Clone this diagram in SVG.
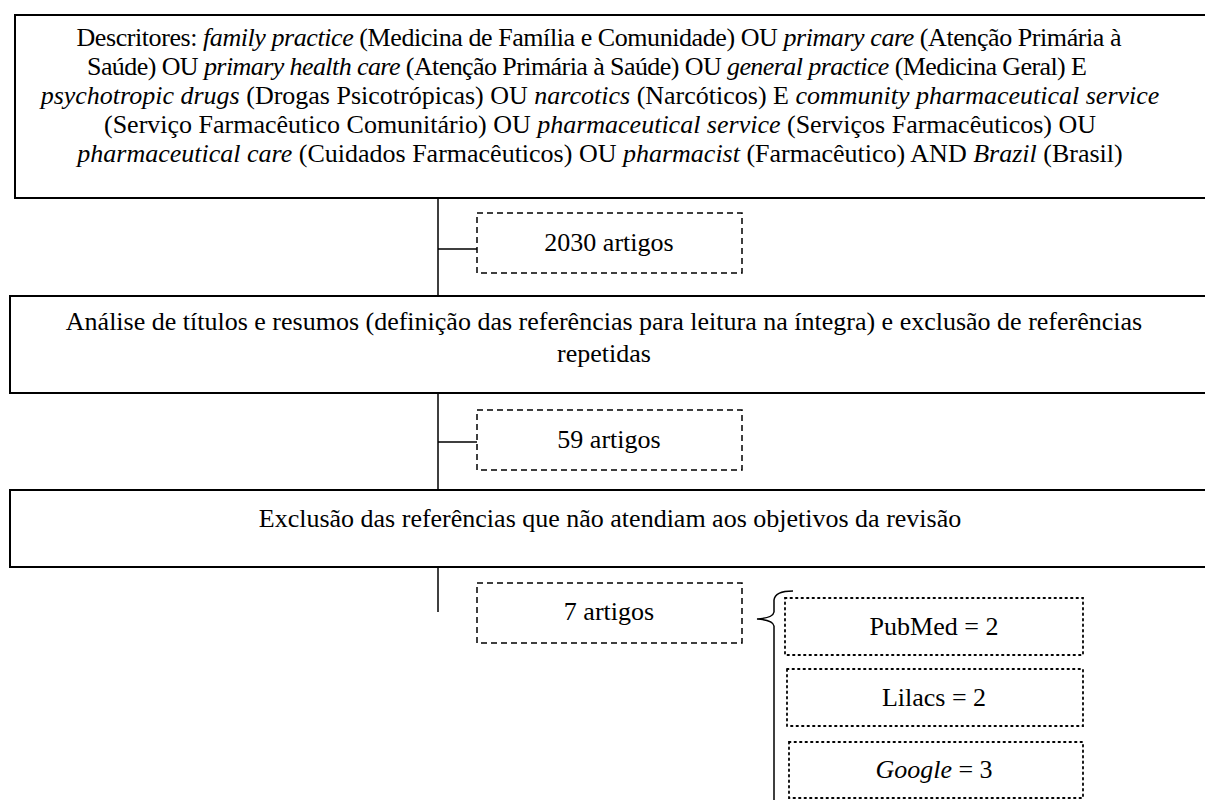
<svg xmlns="http://www.w3.org/2000/svg" width="1205" height="800" viewBox="0 0 1205 800">
<style>
.t{font-family:'Liberation Serif','Times New Roman','DejaVu Serif',serif;font-size:26px;fill:#000;text-anchor:middle}
.i{font-style:italic}
.main{fill:#fff;stroke:#000;stroke-width:2}
.dash{fill:#fff;stroke:#000;stroke-width:1.5;stroke-dasharray:6 4}
.dot{fill:#fff;stroke:#000;stroke-width:1.8;stroke-dasharray:1.5 4;stroke-linecap:round}
.ln{fill:none;stroke:#000;stroke-width:1.5}
</style>
<rect width="1205" height="800" fill="#fff"/>
<g id="connectors">
<path class="ln" d="M438 198V296M438 249H477"/>
<path class="ln" d="M438 393V490M438 442H477"/>
<path class="ln" d="M438 567V612"/>
<path class="ln" stroke-width="2" d="M793 591Q775 591 774 600V612Q773 618 757 619Q773 620 774 626V800"/>
</g>
<g id="n1" class="t" font-family="Liberation Serif, serif">
<rect class="main" x="15" y="15" width="1200" height="183"/>
<text x="599" y="46" textLength="1045" lengthAdjust="spacing">Descritores: <tspan class="i">family practice</tspan> (Medicina de Família e Comunidade) OU <tspan class="i">primary care</tspan> (Atenção Primária à</text>
<text x="587" y="75" textLength="1000" lengthAdjust="spacing">Saúde) OU <tspan class="i">primary health care</tspan> (Atenção Primária à Saúde) OU <tspan class="i">general practice</tspan> (Medicina Geral) E</text>
<text x="600" y="104"><tspan class="i">psychotropic drugs</tspan> (Drogas Psicotrópicas) OU <tspan class="i">narcotics</tspan> (Narcóticos) E <tspan class="i">community pharmaceutical service</tspan></text>
<text x="600" y="133">(Serviço Farmacêutico Comunitário) OU <tspan class="i">pharmaceutical service</tspan> (Serviços Farmacêuticos) OU</text>
<text x="600" y="162"><tspan class="i">pharmaceutical care</tspan> (Cuidados Farmacêuticos) OU <tspan class="i">pharmacist</tspan> (Farmacêutico) AND <tspan class="i">Brazil</tspan> (Brasil)</text>
</g>
<g id="n2" class="t" font-family="Liberation Serif, serif">
<rect class="dash" x="477" y="213" width="265" height="60"/>
<text x="609" y="251">2030 artigos</text>
</g>
<g id="n3" class="t" font-family="Liberation Serif, serif">
<rect class="main" x="10" y="296" width="1205" height="97"/>
<text x="604" y="330">Análise de títulos e resumos (definição das referências para leitura na íntegra) e exclusão de referências</text>
<text x="604" y="362">repetidas</text>
</g>
<g id="n4" class="t" font-family="Liberation Serif, serif">
<rect class="dash" x="477" y="410" width="265" height="60"/>
<text x="609" y="448">59 artigos</text>
</g>
<g id="n5" class="t" font-family="Liberation Serif, serif">
<rect class="main" x="10" y="490" width="1205" height="77"/>
<text x="610" y="527">Exclusão das referências que não atendiam aos objetivos da revisão</text>
</g>
<g id="n6" class="t" font-family="Liberation Serif, serif">
<rect class="dash" x="477" y="583" width="265" height="60"/>
<text x="609" y="620">7 artigos</text>
</g>
<g id="n7" class="t" font-family="Liberation Serif, serif">
<rect class="dot" x="785" y="598" width="298" height="57"/>
<text x="934" y="635">PubMed = 2</text>
</g>
<g id="n8" class="t" font-family="Liberation Serif, serif">
<rect class="dot" x="787" y="669" width="296" height="57"/>
<text x="934" y="706">Lilacs = 2</text>
</g>
<g id="n9" class="t" font-family="Liberation Serif, serif">
<rect class="dot" x="789" y="742" width="294" height="56"/>
<text x="934" y="778"><tspan class="i">Google</tspan> = 3</text>
</g>
</svg>
